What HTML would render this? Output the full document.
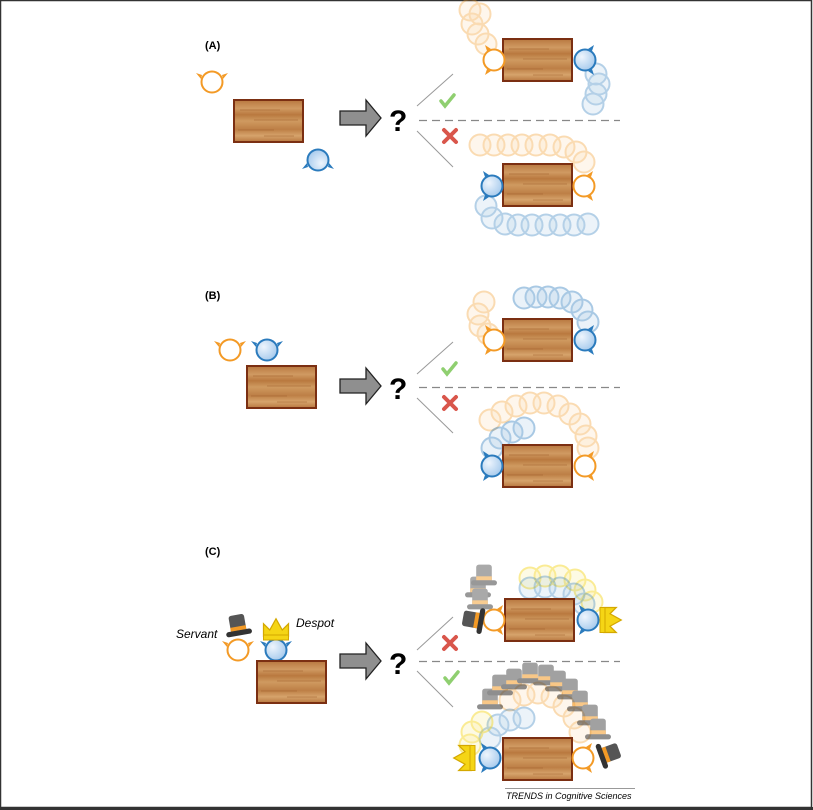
<!DOCTYPE html>
<html><head><meta charset="utf-8"><style>
html,body{margin:0;padding:0;background:#fff}
svg{display:block}
text{font-family:"Liberation Sans",sans-serif}
</style></head><body>
<svg width="813" height="810" viewBox="0 0 813 810" xmlns="http://www.w3.org/2000/svg">
<defs>
<linearGradient id="wood" x1="0" y1="0" x2="0" y2="1">
<stop offset="0" stop-color="#b8773f"/><stop offset=".2" stop-color="#d09a62"/><stop offset=".35" stop-color="#b9793f"/><stop offset=".5" stop-color="#cf9a60"/><stop offset=".7" stop-color="#bd7f46"/><stop offset=".85" stop-color="#d6a36b"/><stop offset="1" stop-color="#b87740"/>
</linearGradient>
<radialGradient id="bl" cx=".35" cy=".35" r=".8"><stop offset="0" stop-color="#eef5fd"/><stop offset="1" stop-color="#9cc4ea"/></radialGradient>
<g id="tbl"><rect x="0" y="0" width="69" height="42" fill="url(#wood)" stroke="#7b2f12" stroke-width="2"/>
<path d="M6 10h40M20 20h44M4 30h36M30 36h30" stroke="#9a5a28" stroke-width=".8" opacity=".6"/></g>
<g id="op"><path d="M-3 -11l-6-4 2 6zM-3 11l-6 4 2-6z" fill="#f39a26"/><circle r="10.5" fill="#fff" stroke="#f39a26" stroke-width="2"/></g>
<g id="bp"><path d="M-3 -11l-6-4 2 6zM-3 11l-6 4 2-6z" fill="#2b7bbd"/><circle r="10.5" fill="url(#bl)" stroke="#2b7bbd" stroke-width="2"/></g>
<g id="opr"><path d="M3 -11l6-4-2 6zM3 11l6 4-2-6z" fill="#f39a26"/><circle r="10.5" fill="#fff" stroke="#f39a26" stroke-width="2"/></g>
<g id="bpr"><path d="M3 -11l6-4-2 6zM3 11l6 4-2-6z" fill="#2b7bbd"/><circle r="10.5" fill="url(#bl)" stroke="#2b7bbd" stroke-width="2"/></g>
<g id="opu"><path d="M-11 -3l-5 -6 6 2zM11 -3l5-6-6 2z" fill="#f39a26"/><circle r="10.5" fill="#fff" stroke="#f39a26" stroke-width="2"/></g>
<g id="bpu"><path d="M-11 -3l-5 -6 6 2zM11 -3l5-6-6 2z" fill="#2b7bbd"/><circle r="10.5" fill="url(#bl)" stroke="#2b7bbd" stroke-width="2"/></g>
<g id="tr"><circle r="10.5" fill-opacity=".25" stroke-width="2"/></g>
<g id="arr"><path d="M0 -7h26v-11l15 18-15 18v-11h-26z" fill="#8f8f8f" stroke="#222" stroke-width="1.3"/></g>
<g id="chk"><path d="M-7 1l4 5 9-11" stroke="#8fcf70" stroke-width="3.5" fill="none" stroke-linecap="round"/></g>
<g id="xx"><path d="M-6 -6l12 12M6 -6l-12 12" stroke="#d9564b" stroke-width="4" stroke-linecap="round"/></g>
<g id="hat"><g transform="scale(1.3)"><rect x="-6" y="-18" width="12" height="14" rx="2" fill="#555"/><rect x="-10" y="-6" width="20" height="4" rx="2" fill="#333"/><rect x="-6" y="-9" width="12" height="3" fill="#f39a26"/></g></g>
<g id="crown"><g transform="scale(1.25)"><path d="M-10 -3v-10l5 5 5-9 5 9 5-5v10z" fill="#f5d515" stroke="#d4a800" stroke-width="1"/><rect x="-10" y="-4" width="20" height="4" fill="#f5d515" stroke="#d4a800" stroke-width=".8"/></g></g>
<g id="crownS"><g transform="rotate(90)"><use href="#crown"/></g></g>
</defs>
<rect x="0.5" y="0.5" width="811" height="807" fill="#fff" stroke="#333" stroke-width="1.5"/>
<line x1="0" y1="808.5" x2="813" y2="808.5" stroke="#333" stroke-width="3"/>

<!-- Panel A -->
<text x="205" y="49" font-size="11" font-weight="bold">(A)</text>
<use href="#opu" x="212" y="82"/>
<use href="#tbl" x="234" y="100"/>
<g transform="translate(318 160) rotate(180)"><use href="#bpu"/></g>
<use href="#arr" x="340" y="118"/>
<text x="389" y="131" font-size="30" font-weight="bold">?</text>
<line x1="417" y1="106" x2="453" y2="74" stroke="#999"/>
<line x1="417" y1="131" x2="453" y2="167" stroke="#999"/>
<line x1="419" y1="120.5" x2="620" y2="120.5" stroke="#888" stroke-width="1.3" stroke-dasharray="8,5"/>
<use href="#chk" x="448" y="100"/>
<use href="#xx" x="450" y="136"/>
<g stroke="#f39a26" fill="#f39a26" opacity=".35"><use href="#tr" x="470" y="10"/><use href="#tr" x="480" y="14"/><use href="#tr" x="472" y="24"/><use href="#tr" x="478" y="34"/><use href="#tr" x="486" y="44"/></g>
<g stroke="#2b7bbd" fill="#2b7bbd" opacity=".35"><use href="#tr" x="596" y="74"/><use href="#tr" x="599" y="84"/><use href="#tr" x="596" y="94"/><use href="#tr" x="593" y="104"/></g>
<use href="#tbl" x="503" y="39"/>
<use href="#op" x="494" y="60"/>
<use href="#bpr" x="585" y="60"/>
<g stroke="#f39a26" fill="#f39a26" opacity=".35"><use href="#tr" x="480" y="145"/><use href="#tr" x="494" y="145"/><use href="#tr" x="508" y="145"/><use href="#tr" x="522" y="145"/><use href="#tr" x="536" y="145"/><use href="#tr" x="550" y="145"/><use href="#tr" x="564" y="147"/><use href="#tr" x="576" y="152"/><use href="#tr" x="584" y="162"/></g>
<g stroke="#2b7bbd" fill="#2b7bbd" opacity=".35"><use href="#tr" x="486" y="206"/><use href="#tr" x="492" y="218"/><use href="#tr" x="505" y="224"/><use href="#tr" x="518" y="225"/><use href="#tr" x="532" y="225"/><use href="#tr" x="546" y="225"/><use href="#tr" x="560" y="225"/><use href="#tr" x="574" y="225"/><use href="#tr" x="588" y="224"/></g>
<use href="#tbl" x="503" y="164"/>
<use href="#bp" x="492" y="186"/>
<use href="#opr" x="584" y="186"/>

<!-- Panel B -->
<text x="205" y="299" font-size="11" font-weight="bold">(B)</text>
<use href="#opu" x="230" y="350"/>
<use href="#bpu" x="267" y="350"/>
<use href="#tbl" x="247" y="366"/>
<use href="#arr" x="340" y="386"/>
<text x="389" y="399" font-size="30" font-weight="bold">?</text>
<line x1="417" y1="374" x2="453" y2="342" stroke="#999"/>
<line x1="417" y1="398" x2="453" y2="433" stroke="#999"/>
<line x1="419" y1="387.5" x2="620" y2="387.5" stroke="#888" stroke-width="1.3" stroke-dasharray="8,5"/>
<use href="#chk" x="450" y="368"/>
<use href="#xx" x="450" y="403"/>
<g stroke="#f39a26" fill="#f39a26" opacity=".35"><use href="#tr" x="484" y="302"/><use href="#tr" x="478" y="314"/><use href="#tr" x="480" y="326"/><use href="#tr" x="488" y="334"/></g>
<g stroke="#2b7bbd" fill="#2b7bbd" opacity=".4"><use href="#tr" x="524" y="298"/><use href="#tr" x="536" y="297"/><use href="#tr" x="548" y="297"/><use href="#tr" x="560" y="298"/><use href="#tr" x="572" y="302"/><use href="#tr" x="582" y="310"/><use href="#tr" x="588" y="322"/></g>
<use href="#tbl" x="503" y="319"/>
<use href="#op" x="494" y="340"/>
<use href="#bpr" x="585" y="340"/>
<g stroke="#f39a26" fill="#f39a26" opacity=".35"><use href="#tr" x="490" y="420"/><use href="#tr" x="502" y="412"/><use href="#tr" x="516" y="406"/><use href="#tr" x="530" y="403"/><use href="#tr" x="544" y="403"/><use href="#tr" x="558" y="406"/><use href="#tr" x="570" y="414"/><use href="#tr" x="580" y="424"/><use href="#tr" x="586" y="436"/><use href="#tr" x="588" y="448"/></g>
<g stroke="#2b7bbd" fill="#2b7bbd" opacity=".4"><use href="#tr" x="524" y="428"/><use href="#tr" x="512" y="432"/><use href="#tr" x="500" y="438"/><use href="#tr" x="492" y="448"/></g>
<use href="#tbl" x="503" y="445"/>
<use href="#bp" x="492" y="466"/>
<use href="#opr" x="585" y="466"/>

<!-- Panel C -->
<text x="205" y="555" font-size="11" font-weight="bold">(C)</text>
<text x="176" y="638" font-size="12" font-style="italic">Servant</text>
<text x="296" y="627" font-size="12" font-style="italic">Despot</text>
<use href="#opu" x="238" y="650"/>
<use href="#bpu" x="276" y="650"/>
<g transform="translate(240 638) rotate(-10)"><use href="#hat"/></g>
<use href="#crown" x="276" y="640"/>
<use href="#tbl" x="257" y="661"/>
<use href="#arr" x="340" y="661"/>
<text x="389" y="674" font-size="30" font-weight="bold">?</text>
<line x1="417" y1="650" x2="453" y2="617" stroke="#999"/>
<line x1="417" y1="671" x2="453" y2="707" stroke="#999"/>
<line x1="419" y1="661.5" x2="620" y2="661.5" stroke="#888" stroke-width="1.3" stroke-dasharray="8,5"/>
<use href="#xx" x="450" y="643"/>
<use href="#chk" x="452" y="677"/>
<g stroke="#f5d515" fill="#f5d515" opacity=".45"><use href="#tr" x="530" y="578"/><use href="#tr" x="545" y="576"/><use href="#tr" x="560" y="576"/><use href="#tr" x="575" y="580"/><use href="#tr" x="585" y="590"/><use href="#tr" x="592" y="602"/></g>
<g stroke="#2b7bbd" fill="#2b7bbd" opacity=".35"><use href="#tr" x="530" y="588"/><use href="#tr" x="545" y="587"/><use href="#tr" x="560" y="588"/><use href="#tr" x="574" y="594"/><use href="#tr" x="584" y="604"/></g>
<g opacity=".5"><use href="#hat" x="478" y="600"/><use href="#hat" x="480" y="612"/><use href="#hat" x="484" y="588"/></g>
<use href="#tbl" x="505" y="599"/>
<use href="#opr" x="494" y="620"/>
<g transform="translate(486 622) rotate(-80)"><use href="#hat"/></g>
<use href="#bp" x="588" y="620"/>
<g transform="translate(600 620)"><use href="#crownS"/></g>
<g stroke="#f39a26" fill="#f39a26" opacity=".35"><use href="#tr" x="510" y="700"/><use href="#tr" x="524" y="695"/><use href="#tr" x="538" y="693"/><use href="#tr" x="552" y="697"/><use href="#tr" x="564" y="706"/><use href="#tr" x="574" y="718"/><use href="#tr" x="580" y="732"/></g>
<g stroke="#2b7bbd" fill="#2b7bbd" opacity=".35"><use href="#tr" x="490" y="738"/><use href="#tr" x="498" y="725"/><use href="#tr" x="510" y="720"/><use href="#tr" x="524" y="718"/></g>
<g stroke="#f5d515" fill="#f5d515" opacity=".45"><use href="#tr" x="470" y="745"/><use href="#tr" x="472" y="732"/><use href="#tr" x="482" y="722"/></g>
<g opacity=".55"><use href="#hat" x="490" y="712"/><use href="#hat" x="500" y="698"/><use href="#hat" x="514" y="692"/><use href="#hat" x="530" y="686"/><use href="#hat" x="546" y="688"/><use href="#hat" x="558" y="694"/><use href="#hat" x="570" y="702"/><use href="#hat" x="580" y="714"/><use href="#hat" x="590" y="728"/><use href="#hat" x="598" y="742"/></g>
<use href="#tbl" x="503" y="738"/>
<use href="#bp" x="490" y="758"/>
<g transform="translate(475 758) rotate(180)"><use href="#crownS"/></g>
<use href="#opr" x="583" y="758"/>
<g transform="translate(597 758) rotate(70)"><use href="#hat"/></g>
<line x1="505" y1="788.5" x2="635" y2="788.5" stroke="#999"/>
<text x="506" y="799" font-size="9" font-style="italic">TRENDS in Cognitive Sciences</text>
</svg>
</body></html>
